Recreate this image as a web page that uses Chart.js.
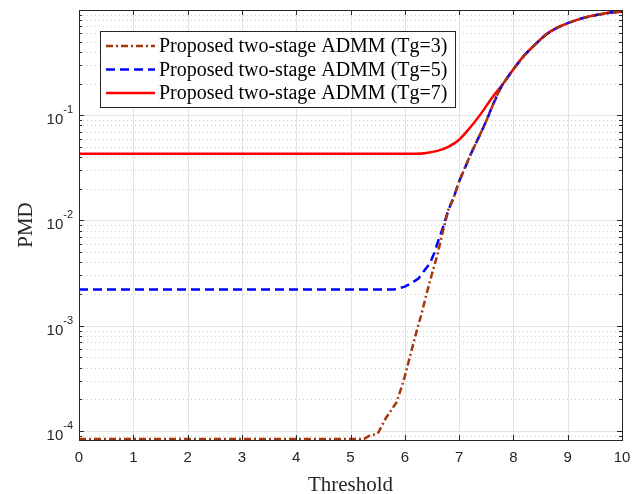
<!DOCTYPE html>
<html>
<head>
<meta charset="utf-8">
<script src="https://cdn.jsdelivr.net/npm/chart.js@4.4.1/dist/chart.umd.min.js"></script>
<style>
  html, body { margin: 0; padding: 0; background: #fff; }
  #wrap { width: 642px; height: 494px; }
</style>
</head>
<body>
<div id="wrap"><canvas id="pmd-chart" width="642" height="494"></canvas></div>
<script>
// Valores
const seriesLabels = ['Proposed two-stage ADMM (Tg=3)', 'Proposed two-stage ADMM (Tg=5)', 'Proposed two-stage ADMM (Tg=7)'];

// trecho comum (todas as curvas juntas no fim)
const tailThreshold = [7.8, 8.0, 8.2, 8.4, 8.6, 8.8, 9.0, 9.2, 9.4, 9.6, 9.8, 10];
const tailPmd = [0.196, 0.274, 0.37, 0.47, 0.585, 0.675, 0.75, 0.815, 0.87, 0.91, 0.945, 0.965];

// trecho comum Tg=3 e Tg=5
const midThreshold = [6.8, 6.9, 7.0, 7.1, 7.2, 7.3, 7.4, 7.5, 7.6, 7.7];
const midPmd = [0.0125, 0.0165, 0.0235, 0.031, 0.041, 0.053, 0.068, 0.088, 0.118, 0.155];

const tg3Threshold = [0, 5.25, 5.35, 5.5, 5.65, 5.85, 5.95, 6.0, 6.1, 6.2, 6.3, 6.4, 6.5, 6.6, 6.7];
const tg3Pmd = [8.4e-5, 8.4e-5, 9.0e-5, 9.4e-5, 1.32e-4, 1.88e-4, 2.7e-4, 3.3e-4, 5.2e-4, 8.2e-4, 1.25e-3, 2.0e-3, 3.1e-3, 4.7e-3, 7.8e-3];

const tg5Threshold = [0, 5.8, 6.0, 6.1, 6.25, 6.35, 6.46, 6.55, 6.62, 6.7];
const tg5Pmd = [2.21e-3, 2.21e-3, 2.35e-3, 2.5e-3, 2.8e-3, 3.3e-3, 3.9e-3, 5.0e-3, 6.5e-3, 8.5e-3];

const tg7Threshold = [0, 6.2, 6.4, 6.6, 6.8, 7.0, 7.2, 7.4, 7.6];
const tg7Pmd = [0.043, 0.043, 0.0438, 0.0458, 0.050, 0.0585, 0.076, 0.103, 0.145];

const xTicks = [0, 1, 2, 3, 4, 5, 6, 7, 8, 9, 10];
const yDecades = [-4, -3, -2, -1];

const toPoints = (xs, ys) => xs.map((x, i) => ({ x: x, y: ys[i] }));

const tg3Data = toPoints(tg3Threshold.concat(midThreshold, tailThreshold), tg3Pmd.concat(midPmd, tailPmd));
const tg5Data = toPoints(tg5Threshold.concat(midThreshold, tailThreshold), tg5Pmd.concat(midPmd, tailPmd));
const tg7Data = toPoints(tg7Threshold.concat(tailThreshold), tg7Pmd.concat(tailPmd));

const Y_MIN = 8.2e-5, Y_MAX = 1;
const axisColor = '#262626';

// grade, caixa, ticks, rótulos do eixo y e legenda
const matlabAxes = {
  id: 'matlabAxes',
  beforeDatasetsDraw(chart) {
    const { ctx, chartArea: a, scales: { x, y } } = chart;
    ctx.save();
    ctx.lineWidth = 1;
    // minor y pontilhado
    ctx.strokeStyle = '#cfcfcf';
    ctx.setLineDash([1, 3]);
    for (let e = -5; e <= -1; e++) {
      for (let m = 2; m <= 9; m++) {
        const v = m * Math.pow(10, e);
        if (v < Y_MIN || v > Y_MAX) continue;
        const py = Math.round(y.getPixelForValue(v)) + 0.5;
        ctx.beginPath(); ctx.moveTo(a.left, py); ctx.lineTo(a.right, py); ctx.stroke();
      }
    }
    ctx.setLineDash([]);
    ctx.strokeStyle = '#e3e3e3';
    yDecades.forEach(e => {
      const py = Math.round(y.getPixelForValue(Math.pow(10, e))) + 0.5;
      ctx.beginPath(); ctx.moveTo(a.left, py); ctx.lineTo(a.right, py); ctx.stroke();
    });
    xTicks.forEach(t => {
      const px = Math.round(x.getPixelForValue(t)) + 0.5;
      ctx.beginPath(); ctx.moveTo(px, a.top); ctx.lineTo(px, a.bottom); ctx.stroke();
    });
    ctx.restore();
  },
  afterDraw(chart) {
    const { ctx, chartArea: a, scales: { x, y } } = chart;
    ctx.save();
    ctx.strokeStyle = axisColor;
    ctx.lineWidth = 1;
    // caixa
    ctx.strokeRect(Math.round(a.left) + 0.5, Math.round(a.top) + 0.5, Math.round(a.right - a.left), Math.round(a.bottom - a.top));
    // ticks x
    xTicks.forEach(t => {
      const px = Math.round(x.getPixelForValue(t)) + 0.5;
      ctx.beginPath();
      ctx.moveTo(px, a.bottom); ctx.lineTo(px, a.bottom - 5);
      ctx.moveTo(px, a.top); ctx.lineTo(px, a.top + 5);
      ctx.stroke();
    });
    // ticks y
    for (let e = -5; e <= -1; e++) {
      for (let m = 1; m <= 9; m++) {
        const v = m * Math.pow(10, e);
        if (v < Y_MIN || v > Y_MAX) continue;
        const len = m === 1 ? 5 : 3;
        const py = Math.round(y.getPixelForValue(v)) + 0.5;
        ctx.beginPath();
        ctx.moveTo(a.left, py); ctx.lineTo(a.left + len, py);
        ctx.moveTo(a.right, py); ctx.lineTo(a.right - len, py);
        ctx.stroke();
      }
    }
    // rótulos y com expoente
    ctx.fillStyle = axisColor;
    ctx.textBaseline = 'alphabetic';
    yDecades.forEach(e => {
      const py = y.getPixelForValue(Math.pow(10, e));
      const sup = String(e);
      ctx.font = '11px "Liberation Sans", Arial, sans-serif';
      const supW = ctx.measureText(sup).width;
      const right = a.left - 6;
      ctx.textAlign = 'right';
      ctx.fillText(sup, right, py - 2);
      ctx.font = '15px "Liberation Sans", Arial, sans-serif';
      ctx.fillText('10', right - supW, py + 9);
    });
    // títulos
    ctx.font = '21px "Liberation Serif", "Times New Roman", serif';
    ctx.textAlign = 'center';
    ctx.fillText('Threshold', (a.left + a.right) / 2, 491);
    ctx.save();
    ctx.translate(32, (a.top + a.bottom) / 2);
    ctx.rotate(-Math.PI / 2);
    ctx.fillText('PMD', 0, 0);
    ctx.restore();
    // legenda
    const lx = 100.5, ly = 31.5, lw = 355, lh = 76;
    ctx.fillStyle = '#fff';
    ctx.fillRect(lx, ly, lw, lh);
    ctx.strokeStyle = axisColor;
    ctx.strokeRect(lx, ly, lw, lh);
    ctx.font = '20px "Liberation Serif", "Times New Roman", serif';
    ctx.textAlign = 'left';
    ctx.textBaseline = 'middle';
    chart.data.datasets.forEach((ds, i) => {
      const cy = 46 + i * 23.5;
      ctx.strokeStyle = ds.borderColor;
      ctx.lineWidth = ds.borderWidth;
      ctx.setLineDash(ds.borderDash || []);
      ctx.beginPath(); ctx.moveTo(106, cy); ctx.lineTo(155, cy); ctx.stroke();
      ctx.setLineDash([]);
      ctx.fillStyle = '#000';
      ctx.fillText(ds.label, 159, cy + 1);
    });
    ctx.restore();
  }
};

const ctx = document.getElementById('pmd-chart').getContext('2d');
new Chart(ctx, {
  type: 'line',
  data: {
    datasets: [
      { label: seriesLabels[0], data: tg3Data, borderColor: '#A3360C', borderWidth: 2.5, borderDash: [7, 3, 2, 3], pointRadius: 0, tension: 0 },
      { label: seriesLabels[1], data: tg5Data, borderColor: '#0000FF', borderWidth: 2.5, borderDash: [9, 5], pointRadius: 0, tension: 0 },
      { label: seriesLabels[2], data: tg7Data, borderColor: '#FF0000', borderWidth: 2.5, pointRadius: 0, cubicInterpolationMode: 'monotone' }
    ]
  },
  options: {
    responsive: false,
    animation: false,
    layout: { padding: { top: 10, right: 20, left: 0, bottom: 0 } },
    plugins: { legend: { display: false }, tooltip: { enabled: false } },
    scales: {
      x: {
        type: 'linear', min: 0, max: 10,
        afterBuildTicks: s => { s.ticks = xTicks.map(v => ({ value: v })); },
        afterFit: s => { s.height = 54; },
        grid: { display: false, drawTicks: false },
        border: { display: false },
        ticks: { padding: 9, color: axisColor, font: { family: '"Liberation Sans", Arial, sans-serif', size: 15 } }
      },
      y: {
        type: 'logarithmic', min: Y_MIN, max: Y_MAX,
        afterFit: s => { s.width = 79; },
        grid: { display: false, drawTicks: false },
        border: { display: false },
        ticks: { display: false }
      }
    }
  },
  plugins: [matlabAxes]
});
</script>
</body>
</html>
